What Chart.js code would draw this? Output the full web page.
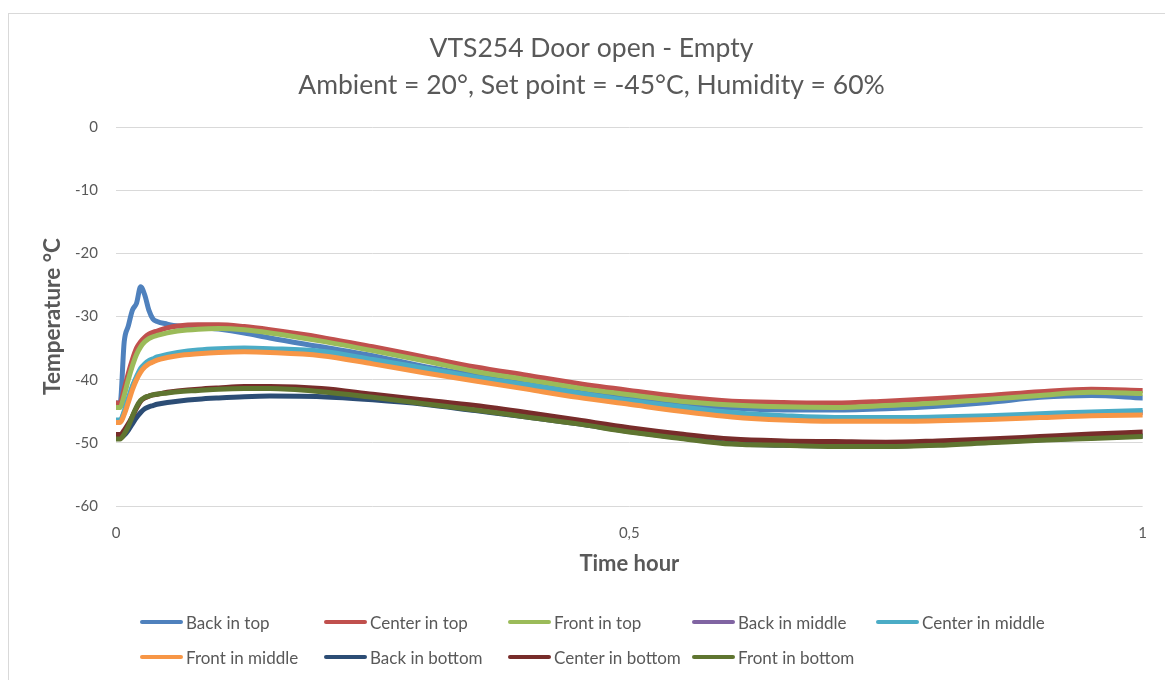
<!DOCTYPE html>
<html>
<head>
<meta charset="utf-8">
<script src="https://cdn.jsdelivr.net/npm/chart.js@4/dist/chart.umd.min.js"></script>
<style>
  html, body { margin: 0; padding: 0; background: #fff; }
  #wrap { position: relative; width: 1165px; height: 680px; }
  canvas { display: block; }
  #legend { position: absolute; left: 140px; top: 609px; width: 1020px; font-family: Lato, "Open Sans", sans-serif; font-size: 17px; color: #595959; }
  .row { position: relative; height: 35px; }
  .item { position: absolute; top: 0; height: 26px; display: flex; align-items: center; white-space: nowrap; }
  .swatch { width: 43px; height: 4px; border-radius: 2px; margin-right: 3px; }
</style>
</head>
<body>
<div id="wrap">
  <canvas id="c" width="1165" height="680"></canvas>
  <div id="legend"></div>
</div>
<script>
const hours = [0, 0.004, 0.008, 0.012, 0.016, 0.02, 0.024, 0.028, 0.032, 0.036, 0.04, 0.05, 0.06, 0.08, 0.1, 0.125, 0.15, 0.2, 0.25, 0.3, 0.35, 0.4, 0.45, 0.5, 0.55, 0.6, 0.65, 0.7, 0.75, 0.8, 0.85, 0.9, 0.95, 1.0];

const seriesNames = ["Back in top", "Center in top", "Front in top", "Back in middle", "Center in middle", "Front in middle", "Back in bottom", "Center in bottom", "Front in bottom"];
const seriesColors = ["#4F81BD", "#C0504D", "#9BBB59", "#8064A2", "#4BACC6", "#F79646", "#2C4D75", "#772C2A", "#5F7530"];

const backTop      = [-43.7, -43.7, -34.0, -31.5, -29.0, -27.9, -25.3, -26.6, -29.0, -30.4, -30.8, -31.2, -31.5, -31.7, -32.0, -32.6, -33.4, -34.8, -36.2, -37.9, -39.3, -40.7, -42.0, -43.0, -43.8, -44.5, -44.8, -44.8, -44.6, -44.2, -43.6, -42.8, -42.5, -42.9];
const centerTop    = [-43.7, -43.7, -41.5, -39.0, -36.8, -35.0, -34.0, -33.3, -32.8, -32.5, -32.3, -31.8, -31.5, -31.3, -31.3, -31.6, -32.1, -33.3, -34.8, -36.4, -38.0, -39.3, -40.6, -41.7, -42.7, -43.4, -43.6, -43.7, -43.4, -43.0, -42.5, -41.9, -41.5, -41.7];
const frontTop     = [-44.4, -44.4, -42.5, -40.0, -37.8, -36.0, -34.8, -34.0, -33.5, -33.2, -33.0, -32.6, -32.3, -32.0, -31.9, -32.1, -32.6, -33.9, -35.4, -37.0, -38.7, -40.0, -41.3, -42.4, -43.4, -44.0, -44.3, -44.4, -44.1, -43.7, -43.1, -42.5, -42.0, -42.2];
const backMiddle   = [-46.6, -46.6, -45.2, -43.2, -41.2, -39.7, -38.5, -37.7, -37.2, -36.9, -36.6, -36.2, -35.9, -35.5, -35.3, -35.2, -35.3, -35.8, -37.0, -38.5, -39.9, -41.1, -42.4, -43.5, -44.6, -45.5, -46.0, -46.3, -46.3, -46.2, -46.0, -45.7, -45.4, -45.2];
const centerMiddle = [-46.4, -46.4, -45.0, -43.0, -41.0, -39.5, -38.2, -37.5, -37.0, -36.7, -36.4, -36.0, -35.7, -35.3, -35.1, -35.0, -35.1, -35.5, -36.8, -38.2, -39.6, -40.8, -42.1, -43.3, -44.3, -45.2, -45.7, -46.0, -46.0, -45.9, -45.7, -45.4, -45.1, -44.9];
const frontMiddle  = [-46.8, -46.8, -45.5, -43.6, -41.6, -40.0, -38.8, -38.0, -37.5, -37.2, -36.9, -36.5, -36.2, -35.9, -35.7, -35.6, -35.7, -36.2, -37.5, -38.9, -40.2, -41.5, -42.8, -43.9, -45.0, -45.9, -46.4, -46.6, -46.6, -46.5, -46.3, -46.0, -45.7, -45.6];
const backBottom   = [-49.2, -49.2, -48.8, -48.0, -47.0, -46.0, -45.2, -44.6, -44.3, -44.1, -43.9, -43.6, -43.4, -43.1, -42.9, -42.7, -42.6, -42.7, -43.2, -43.9, -44.9, -45.9, -47.0, -48.2, -49.2, -50.1, -50.4, -50.5, -50.5, -50.3, -49.9, -49.5, -49.2, -48.9];
const centerBottom = [-48.7, -48.7, -48.0, -47.0, -45.8, -44.5, -43.4, -42.9, -42.6, -42.4, -42.3, -42.0, -41.8, -41.5, -41.3, -41.1, -41.1, -41.4, -42.3, -43.2, -44.1, -45.2, -46.4, -47.6, -48.6, -49.4, -49.7, -49.8, -49.9, -49.7, -49.4, -49.0, -48.6, -48.3];
const frontBottom  = [-49.4, -49.4, -48.6, -47.4, -45.8, -44.3, -43.3, -42.8, -42.6, -42.4, -42.3, -42.1, -41.9, -41.7, -41.5, -41.4, -41.4, -41.9, -42.8, -43.8, -44.8, -45.9, -47.0, -48.3, -49.3, -50.2, -50.4, -50.6, -50.6, -50.4, -50.0, -49.6, -49.3, -49.0];

const seriesValues = [backTop, centerTop, frontTop, backMiddle, centerMiddle, frontMiddle, backBottom, centerBottom, frontBottom];

const titleLines = ["VTS254 Door open - Empty", "Ambient = 20°, Set point = -45°C, Humidity = 60%"];
const yAxisTitle = "Temperature °C";
const xAxisTitle = "Time hour";
const xTickLabels = {0: "0", 0.5: "0,5", 1: "1"};

const FONT = "Lato, 'Open Sans', sans-serif";
const GREY = "#595959";

const datasets = seriesNames.map((name, i) => ({
  label: name,
  data: hours.map((h, j) => ({x: h, y: seriesValues[i][j]})),
  borderColor: seriesColors[i],
  backgroundColor: seriesColors[i],
  borderWidth: 5,
  pointRadius: 0,
  fill: false,
  cubicInterpolationMode: 'monotone',
  borderCapStyle: 'round',
  borderJoinStyle: 'round',
  order: seriesNames.length - i
}));

const frame = {
  id: 'frame',
  beforeDraw(chart) {
    const ctx = chart.ctx;
    ctx.save();
    ctx.fillStyle = '#fff';
    ctx.fillRect(0, 0, chart.width, chart.height);
    ctx.strokeStyle = '#D9D9D9';
    ctx.lineWidth = 1;
    ctx.strokeRect(8.5, 13.5, 1300, 800);
    ctx.restore();
  }
};

new Chart(document.getElementById('c'), {
  type: 'line',
  data: { datasets },
  plugins: [frame],
  options: {
    responsive: false,
    animation: false,
    layout: { padding: { top: 30, left: 36, right: 18, bottom: 0 } },
    plugins: {
      legend: { display: false },
      tooltip: { enabled: false },
      title: {
        display: true,
        text: titleLines,
        color: GREY,
        font: { family: FONT, size: 26.5, weight: 'normal', lineHeight: '37px' },
        padding: { top: 0, bottom: 23 }
      }
    },
    scales: {
      x: {
        type: 'linear',
        min: 0, max: 1,
        grid: { display: false, drawTicks: false },
        border: { display: false },
        ticks: {
          stepSize: 0.5,
          padding: 18,
          color: GREY,
          font: { family: FONT, size: 15 },
          callback: (v) => xTickLabels[v] !== undefined ? xTickLabels[v] : ''
        },
        title: {
          display: true, text: xAxisTitle, color: GREY,
          font: { family: FONT, size: 22, weight: 'bold' },
          padding: { top: 0, bottom: 103 }
        },
        afterFit(scale) { scale.height = 174; }
      },
      y: {
        min: -60, max: 0,
        grid: { color: '#D9D9D9', lineWidth: 1, drawTicks: false },
        border: { display: false },
        ticks: {
          stepSize: 10,
          padding: 18,
          color: GREY,
          font: { family: FONT, size: 15 }
        },
        title: {
          display: true, text: yAxisTitle, color: GREY,
          font: { family: FONT, size: 22.5, weight: 'bold' },
          padding: { top: 3, bottom: 0 }
        },
        afterFit(scale) { scale.width = 80; }
      }
    }
  }
});

// HTML legend laid out in Excel-style grid
const legendRows = [[0, 1, 2, 3, 4], [5, 6, 7, 8]];
const colStep = 184;
const legendEl = document.getElementById('legend');
legendRows.forEach(row => {
  const r = document.createElement('div');
  r.className = 'row';
  row.forEach((idx, k) => {
    const it = document.createElement('div');
    it.className = 'item';
    it.style.left = (k * colStep) + 'px';
    const sw = document.createElement('span');
    sw.className = 'swatch';
    sw.style.background = seriesColors[idx];
    const tx = document.createElement('span');
    tx.textContent = seriesNames[idx];
    it.appendChild(sw); it.appendChild(tx);
    r.appendChild(it);
  });
  legendEl.appendChild(r);
});
</script>
</body>
</html>
